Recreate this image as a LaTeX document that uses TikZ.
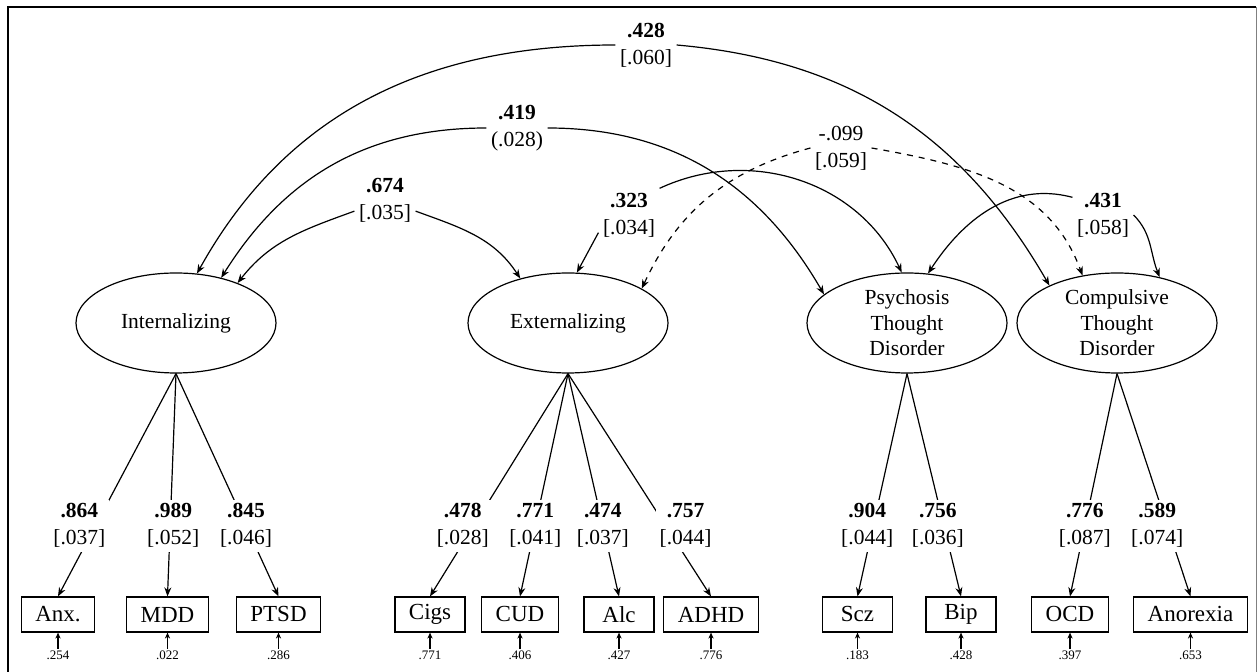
\documentclass[tikz,border=0pt]{standalone}
\usepackage{fontspec}
\setmainfont{Liberation Serif}
\usetikzlibrary{shapes,arrows.meta,positioning}

\begin{document}
\begin{tikzpicture}[
    x=0.5pt, y=-0.5pt, line width=0.6pt,
    >={Stealth[length=4.5pt,width=3.5pt]},
    factor/.style={ellipse, draw, minimum width=100pt, minimum height=50pt, inner sep=-8pt, align=center, font=\fontsize{10.75}{12.75}\selectfont},
    indicator/.style={rectangle, draw, minimum width=35pt, minimum height=17.5pt, inner xsep=7pt, font=\fontsize{11.5}{13.5}\selectfont},
    coef/.style={fill=white, inner sep=2pt, align=center, font=\fontsize{10.75}{13.5}\selectfont},
    resid/.style={inner sep=1pt, font=\fontsize{6.5}{8}\selectfont},
    arrow/.style={->},
    resarrow/.style={-{Stealth[length=3pt,width=2.6pt]}}
]
    \useasboundingbox (0,0) rectangle (1258,672);

    % Frame
    \draw[line width=1pt] (8,672) -- (8,7) -- (1256,7);
    \draw[gray, line width=0.5pt] (1256,7) -- (1256,672);

    % Factors
    \node[factor] (int) at (176,323) {Internalizing};
    \node[factor] (ext) at (568,323) {Externalizing};
    \node[factor] (psy) at (907,323) {Psychosis\\Thought\\Disorder};
    \node[factor] (comp) at (1117,323) {Compulsive\\Thought\\Disorder};

    % Indicators
    \node[indicator] (anx) at (58,614.5) {Anx.};
    \node[indicator] (mdd) at (167.5,614.5) {MDD};
    \node[indicator] (ptsd) at (278.5,614.5) {PTSD};
    \node[indicator] (cigs) at (430,614.5) {Cigs};
    \node[indicator] (cud) at (520,614.5) {CUD};
    \node[indicator] (alc) at (619,614.5) {Alc};
    \node[indicator] (adhd) at (711,614.5) {ADHD};
    \node[indicator] (scz) at (857.5,614.5) {Scz};
    \node[indicator] (bip) at (961,614.5) {Bip};
    \node[indicator] (ocd) at (1070,614.5) {OCD};
    \node[indicator] (anor) at (1190.5,614.5) {Anorexia};

    % Residuals
    \node[resid, below=8pt of anx] (ranx) {.254};
    \node[resid, below=8pt of mdd] (rmdd) {.022};
    \node[resid, below=8pt of ptsd] (rptsd) {.286};
    \node[resid, below=8pt of cigs] (rcigs) {.771};
    \node[resid, below=8pt of cud] (rcud) {.406};
    \node[resid, below=8pt of alc] (ralc) {.427};
    \node[resid, below=8pt of adhd] (radhd) {.776};
    \node[resid, below=8pt of scz] (rscz) {.183};
    \node[resid, below=8pt of bip] (rbip) {.428};
    \node[resid, below=8pt of ocd] (rocd) {.397};
    \node[resid, below=8pt of anor] (ranor) {.653};
    \draw[resarrow] (ranx) -- (anx);
    \draw[resarrow] (rmdd) -- (mdd);
    \draw[resarrow] (rptsd) -- (ptsd);
    \draw[resarrow] (rcigs) -- (cigs);
    \draw[resarrow] (rcud) -- (cud);
    \draw[resarrow] (ralc) -- (alc);
    \draw[resarrow] (radhd) -- (adhd);
    \draw[resarrow] (rscz) -- (scz);
    \draw[resarrow] (rbip) -- (bip);
    \draw[resarrow] (rocd) -- (ocd);
    \draw[resarrow] (ranor) -- (anor);

    % Loadings
    \draw[arrow] (int.south) -- (anx.north) node[coef, pos=.683, xshift=-8pt] {\textbf{.864}\\{[.037]}};
    \draw[arrow] (int.south) -- (mdd.north) node[coef, pos=.683, xshift=1.5pt] {\textbf{.989}\\{[.052]}};
    \draw[arrow] (int.south) -- (ptsd.north) node[coef, pos=.683] {\textbf{.845}\\{[.046]}};
    \draw[arrow] (ext.south) -- (cigs.north) node[coef, pos=.683, xshift=-5.5pt] {\textbf{.478}\\{[.028]}};
    \draw[arrow] (ext.south) -- (cud.north) node[coef, pos=.683] {\textbf{.771}\\{[.041]}};
    \draw[arrow] (ext.south) -- (alc.north) node[coef, pos=.683] {\textbf{.474}\\{[.037]}};
    \draw[arrow] (ext.south) -- (adhd.north) node[coef, pos=.683, xshift=10pt] {\textbf{.757}\\{[.044]}};
    \draw[arrow] (psy.south) -- (scz.north) node[coef, pos=.683, xshift=-3pt] {\textbf{.904}\\{[.044]}};
    \draw[arrow] (psy.south) -- (bip.north) node[coef, pos=.683, xshift=-3pt] {\textbf{.756}\\{[.036]}};
    \draw[arrow] (comp.south) -- (ocd.north) node[coef, pos=.683] {\textbf{.776}\\{[.087]}};
    \draw[arrow] (comp.south) -- (anor.north) node[coef, pos=.683, xshift=-5pt] {\textbf{.589}\\{[.074]}};

    % Covariances
    \node[coef] (c428) at (646,45) {\textbf{.428}\\{[.060]}};
    \node[coef] (c419) at (517,128) {\textbf{.419}\\{(.028)}};
    \node[coef] (c674) at (385,200) {\textbf{.674}\\{[.035]}};
    \node[coef] (c323) at (629,215) {\textbf{.323}\\{[.034]}};
    \node[coef] (c099) at (841,148) {-.099\\{[.059]}};
    \node[coef] (c431) at (1103,215) {\textbf{.431}\\{[.058]}};

    \draw[arrow] (c428.west) to[out=180,in=61] (int.67);
    \draw[arrow] (c428.east) to[out=-5,in=120] (comp.151);
    \draw[arrow] (c419.west) to[out=180,in=58] (int.45);
    \draw[arrow] (c419.east) to[out=0,in=120] (psy.161);
    \draw[arrow] (c674.200) to[out=200,in=52] (int.33);
    \draw[arrow] (c674.-20) to[out=-20,in=123] (ext.137);
    \draw[arrow] (c323.210) -- (ext.80);
    \draw[arrow] (c323.north east) to[out=25,in=115] (psy.96);
    \draw[arrow] (c431.150) to[out=165,in=57] (psy.67);
    \draw[arrow] (c431.east) to[out=-45,in=112] (comp.47);
    \draw[arrow, dashed] (c099.west) to[out=195,in=65] (ext.25);
    \draw[arrow, dashed] (c099.east) to[out=-10,in=110] (comp.126);

\end{tikzpicture}
\end{document}
